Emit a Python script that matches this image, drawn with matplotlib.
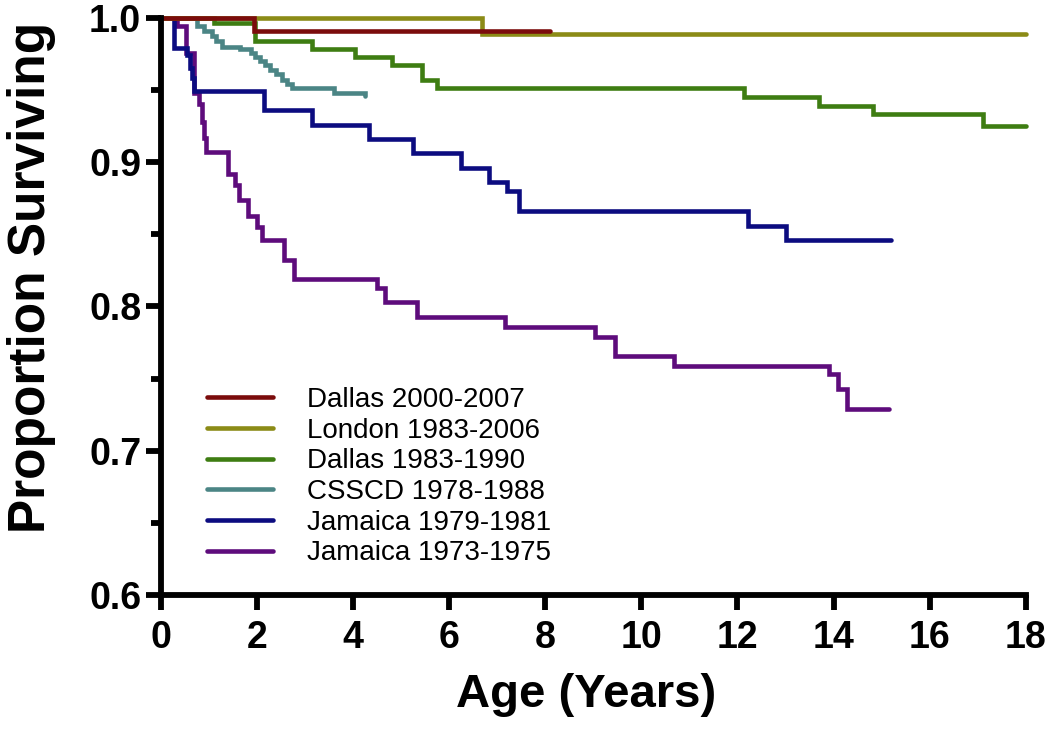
import numpy as np
import matplotlib
matplotlib.use("Agg")
import matplotlib.pyplot as plt
from matplotlib.ticker import MultipleLocator

plt.rcParams['font.family'] = ['Liberation Sans', 'DejaVu Sans']

# Kaplan-Meier steps (age in years, proportion surviving)
dallas00_t = [0, 1.94, 8.1]
dallas00_s = [1.0, 0.991, 0.991]

london_t = [0, 6.68, 18]
london_s = [1.0, 0.989, 0.989]

dallas83_t = [0, 1.1, 1.97, 3.14, 4.05, 4.81, 5.43, 5.75, 12.13, 13.7, 14.81, 17.1, 18]
dallas83_s = [1.0, 0.996, 0.984, 0.978, 0.973, 0.967, 0.957, 0.951, 0.945, 0.939, 0.933, 0.925, 0.925]

csscd_t = [0, 0.75, 0.9, 1.06, 1.15, 1.27, 1.66, 1.87, 1.97, 2.07, 2.17, 2.28, 2.4, 2.52, 2.62, 2.73, 3.6, 4.26]
csscd_s = [1.0, 0.994, 0.991, 0.987, 0.984, 0.980, 0.978, 0.9755, 0.973, 0.970, 0.967, 0.964, 0.961, 0.957, 0.954, 0.951, 0.948, 0.9455]

jam79_t = [0, 0.27, 0.54, 0.62, 0.66, 0.7, 2.14, 3.15, 4.33, 5.26, 6.24, 6.84, 7.21, 7.45, 12.21, 13.0, 15.2]
jam79_s = [1.0, 0.979, 0.974, 0.965, 0.958, 0.949, 0.936, 0.926, 0.916, 0.906, 0.896, 0.886, 0.880, 0.866, 0.856, 0.846, 0.846]

jam73_t = [0, 0.33, 0.53, 0.69, 0.79, 0.85, 0.9, 0.95, 1.41, 1.54, 1.62, 1.81, 2.0, 2.1, 2.56, 2.78,
           4.5, 4.67, 5.33, 7.16, 9.04, 9.46, 10.67, 13.9, 14.1, 14.28, 15.16]
jam73_s = [1.0, 0.994, 0.9755, 0.948, 0.94, 0.928, 0.917, 0.907, 0.892, 0.884, 0.874, 0.863, 0.855, 0.846, 0.832, 0.819,
           0.813, 0.803, 0.793, 0.786, 0.779, 0.766, 0.759, 0.753, 0.743, 0.729, 0.729]

labels = ["Dallas 2000-2007", "London 1983-2006", "Dallas 1983-1990",
          "CSSCD 1978-1988", "Jamaica 1979-1981", "Jamaica 1973-1975"]
colors = ["#7b0c0c", "#8b8b16", "#3e7d12", "#4b8585", "#0c0c80", "#5e0c7c"]
series = [(dallas00_t, dallas00_s), (london_t, london_s), (dallas83_t, dallas83_s),
          (csscd_t, csscd_s), (jam79_t, jam79_s), (jam73_t, jam73_s)]

fig = plt.figure(figsize=(10.5, 7.35), dpi=100)
ax = fig.add_axes([0.153, 0.19, 0.824, 0.786])

handles = [None] * len(series)
for i in reversed(range(len(series))):
    t, s = series[i]
    ln, = ax.step(t, s, where="post", color=colors[i], lw=3.3, clip_on=False,
                  solid_capstyle="round", solid_joinstyle="miter")
    handles[i] = ln

ax.set_xlim(0, 18)
ax.set_ylim(0.6, 1.0)
ax.xaxis.set_major_locator(MultipleLocator(2))
ax.yaxis.set_major_locator(MultipleLocator(0.1))
ax.yaxis.set_minor_locator(MultipleLocator(0.05))
ax.yaxis.set_major_formatter(plt.FuncFormatter(lambda v, p: f"{v:.1f}"))

for side in ["top", "right"]:
    ax.spines[side].set_visible(False)
for side in ["left", "bottom"]:
    ax.spines[side].set_linewidth(4.2)

ax.tick_params(axis="both", which="major", length=11, width=4.2, labelsize=27)
ax.tick_params(axis="x", which="major", pad=7)
ax.tick_params(axis="y", which="major", pad=3)
ax.tick_params(axis="y", which="minor", length=7, width=4.2)
for lab in ax.get_xticklabels() + ax.get_yticklabels():
    lab.set_fontweight("bold")

ax.set_xlabel("Age (Years)", fontsize=34, fontweight="bold")
ax.set_ylabel("Proportion Surviving", fontsize=37, fontweight="bold")
ax.xaxis.set_label_coords(0.492, -0.135)
ax.yaxis.set_label_coords(-0.121, 0.55)

ax.legend(handles, labels, loc="lower left", bbox_to_anchor=(0.054, 0.05),
          frameon=False, fontsize=20, handlelength=2.37, handletextpad=1.22,
          labelspacing=0.17, borderpad=0, borderaxespad=0)

fig.savefig("out.png", dpi=100)
